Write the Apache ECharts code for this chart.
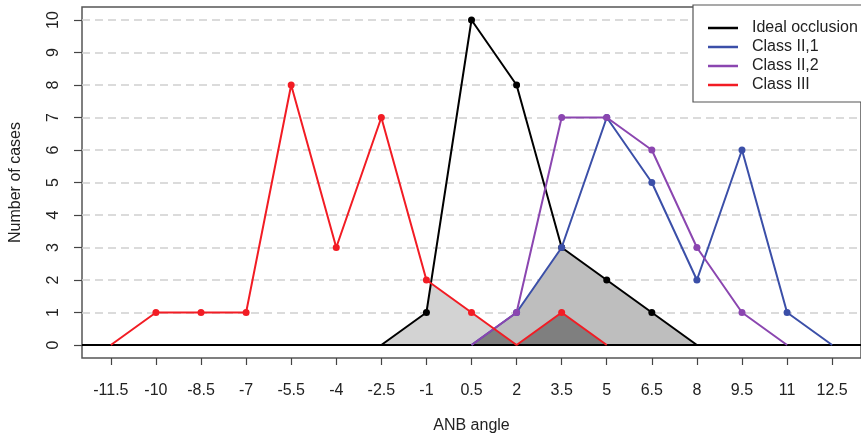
<!DOCTYPE html>
<html>
<head>
<meta charset="utf-8">
<script src="https://cdn.jsdelivr.net/npm/echarts@6/dist/echarts.min.js"></script>
<style>html,body{margin:0;padding:0;background:#fff}#c{width:861px;height:439px}</style>
</head>
<body>
<div id="c"></div>
<script>
// ---- data ----
const xTicks = [-11.5, -10, -8.5, -7, -5.5, -4, -2.5, -1, 0.5, 2, 3.5, 5, 6.5, 8, 9.5, 11, 12.5];
const yTicks = [0, 1, 2, 3, 4, 5, 6, 7, 8, 9, 10];
const idealOcclusion = [null, null, null, null, null, null, 0, 1, 10, 8, 3, 2, 1, 0, null, null, null];
const classII1 = [null, null, null, null, null, null, null, null, 0, 1, 3, 7, 5, 2, 6, 1, 0];
const classII2 = [null, null, null, null, null, null, null, null, 0, 1, 7, 7, 6, 3, 1, 0, null];
const classIII = [0, 1, 1, 1, 8, 3, 7, 2, 1, 0, 1, 0, null, null, null, null, null];

// ---- helpers ----
function pairs(arr) {
  const out = [];
  arr.forEach((v, i) => { if (v !== null) out.push([xTicks[i], v]); });
  return out;
}
// pointwise minimum of two series, including crossing points
function minOverlap(a, b) {
  const A = a.map(v => v === null ? 0 : v), B = b.map(v => v === null ? 0 : v);
  const pts = [];
  for (let i = 0; i < xTicks.length; i++) {
    pts.push([xTicks[i], Math.min(A[i], B[i])]);
    if (i < xTicks.length - 1) {
      const d0 = A[i] - B[i], d1 = A[i + 1] - B[i + 1];
      if (d0 * d1 < 0) {
        const t = d0 / (d0 - d1);
        const x = xTicks[i] + t * (xTicks[i + 1] - xTicks[i]);
        const y = A[i] + t * (A[i + 1] - A[i]);
        pts.push([x, y]);
      }
    }
  }
  return pts;
}
const dotSize = v => (Array.isArray(v) ? v[1] : v) === 0 ? 0 : 7;

const colBlack = '#000000', colBlue = '#3b4fa8', colPurple = '#8b46b0', colRed = '#f21c24';

function lineSeries(name, arr, color, z) {
  return {
    name, type: 'line', data: pairs(arr), z,
    symbol: 'circle', symbolSize: dotSize, showSymbol: true,
    lineStyle: { color, width: 2, type: 'solid' }, itemStyle: { color },
    emphasis: { disabled: true }, silent: true, animation: false
  };
}
function areaSeries(pts, color, z) {
  return {
    type: 'line', data: pts, z, symbol: 'none', silent: true, animation: false,
    lineStyle: { width: 0, opacity: 0 },
    areaStyle: { color, opacity: 1, origin: 0 }
  };
}

const xMin = xTicks[0] - 0.04 * (xTicks[xTicks.length - 1] - xTicks[0]);
const xMax = xTicks[xTicks.length - 1] + 0.04 * (xTicks[xTicks.length - 1] - xTicks[0]);
const yMin = yTicks[0] - 0.04 * (yTicks[yTicks.length - 1] - yTicks[0]);
const yMax = yTicks[yTicks.length - 1] + 0.04 * (yTicks[yTicks.length - 1] - yTicks[0]);

const chart = echarts.init(document.getElementById('c'), null, { renderer: 'canvas' });
chart.setOption({
  animation: false,
  textStyle: { fontFamily: 'Liberation Sans, Arial, sans-serif' },
  grid: { left: 80, top: 7, width: 785, height: 353, show: true, borderColor: '#555', borderWidth: 1.5, backgroundColor: 'transparent' },
  legend: {
    orient: 'vertical', left: 693, top: 5, z: 50,
    data: ['Ideal occlusion', 'Class II,1', 'Class II,2', 'Class III'],
    icon: 'rect', itemWidth: 30, itemHeight: 2.5, itemGap: 3,
    itemStyle: { borderWidth: 0 },
    padding: [15, 40, 9, 15],
    borderColor: '#555', borderWidth: 1.2, backgroundColor: '#fff',
    textStyle: { fontSize: 16, color: '#222', padding: [0, 0, 0, 9], fontFamily: 'Liberation Sans, Arial, sans-serif' },
    selectedMode: false
  },
  xAxis: {
    type: 'value', min: xMin, max: xMax,
    name: 'ANB angle', nameLocation: 'middle', nameGap: 60,
    nameTextStyle: { fontSize: 16, color: '#222' },
    axisLine: { show: false, onZero: false },
    axisTick: { show: true, length: 7, lineStyle: { color: '#444', width: 1.2 }, customValues: xTicks },
    axisLabel: { fontSize: 16, color: '#222', margin: 25, customValues: xTicks, formatter: v => String(v) },
    splitLine: { show: false }
  },
  yAxis: {
    type: 'value', min: yMin, max: yMax,
    name: 'Number of cases', nameLocation: 'middle', nameGap: 58, nameRotate: 90,
    nameTextStyle: { fontSize: 16, color: '#222' },
    axisLine: { show: false, onZero: false },
    axisTick: { show: true, length: 8, lineStyle: { color: '#444', width: 1.2 }, customValues: yTicks },
    axisLabel: { fontSize: 16, color: '#222', margin: 20, rotate: 90, customValues: yTicks, formatter: v => String(v) },
    splitLine: { show: false }
  },
  series: [
    {
      type: 'line', data: [], z: 1, silent: true,
      markLine: {
        silent: true, symbol: 'none', label: { show: false }, animation: false, z: 1,
        lineStyle: { color: '#d0d0d0', type: [8, 5], width: 1.5 },
        data: yTicks.filter(v => v !== 0).map(v => ({ yAxis: v }))
      }
    },
    areaSeries(minOverlap(idealOcclusion, classIII), '#d3d3d3', 2),
    areaSeries(minOverlap(idealOcclusion, classII1), '#bebebe', 3),
    areaSeries(minOverlap(classII2, classIII), '#7f7f7f', 4),
    Object.assign(lineSeries('Ideal occlusion', idealOcclusion, colBlack, 10), {
      markLine: {
        silent: true, symbol: 'none', label: { show: false }, animation: false,
        lineStyle: { color: '#000', type: 'solid', width: 2 },
        data: [{ yAxis: 0 }]
      }
    }),
    lineSeries('Class II,1', classII1, colBlue, 11),
    lineSeries('Class II,2', classII2, colPurple, 12),
    lineSeries('Class III', classIII, colRed, 13)
  ]
});
</script>
</body>
</html>
